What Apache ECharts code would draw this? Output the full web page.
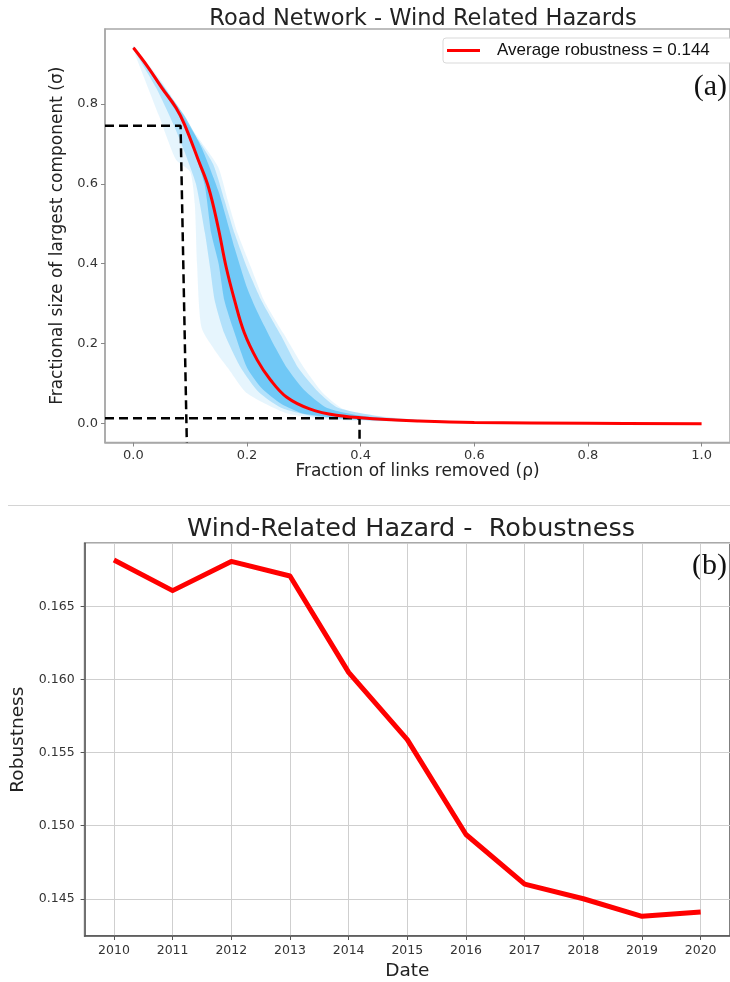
<!DOCTYPE html>
<html>
<head>
<meta charset="utf-8">
<script src="https://cdn.jsdelivr.net/npm/echarts@6/dist/echarts.min.js"></script>
<style>
  html, body { margin: 0; padding: 0; background: #fff; }
  #chart { width: 730px; height: 982px; }
</style>
</head>
<body>
<div id="chart"></div>
<script>
// (a) average curve of the largest component
const avgName = 'Average robustness = 0.144';
const avgX = [0, 0.025, 0.05, 0.075, 0.09, 0.114, 0.132, 0.149, 0.163, 0.178, 0.195, 0.218, 0.241, 0.27, 0.31, 0.357, 0.43, 0.5, 0.6, 0.8, 1.0];
const avgY = [0.94, 0.893, 0.84, 0.79, 0.748, 0.66, 0.592, 0.492, 0.393, 0.309, 0.228, 0.159, 0.11, 0.066, 0.037, 0.021, 0.012, 0.007, 0.003, 0.001, 0.0];

// spread of the individual runs (blue): faint outer edge, main body, dense core
const faintHighX = [0, 0.05, 0.1085, 0.149, 0.166, 0.1835, 0.2065, 0.2297, 0.264, 0.299, 0.334, 0.37, 0.43, 0.5, 0.6, 0.7];
const faintHighY = [0.945, 0.855, 0.726, 0.6425, 0.559, 0.476, 0.3925, 0.309, 0.226, 0.1425, 0.076, 0.036, 0.02, 0.01, 0.005, 0.002];
const faintLowX = [0, 0.045, 0.075, 0.1, 0.108, 0.112, 0.12, 0.15, 0.166, 0.2, 0.27, 0.35, 0.5, 0.7];
const faintLowY = [0.935, 0.77, 0.66, 0.63, 0.55, 0.40, 0.24, 0.17, 0.14, 0.076, 0.026, 0.01, 0.004, 0.001];

const mainHighX = [0, 0.05, 0.1, 0.14, 0.16, 0.178, 0.2, 0.225, 0.26, 0.29, 0.325, 0.36, 0.45, 0.6];
const mainHighY = [0.943, 0.85, 0.74, 0.65, 0.56, 0.476, 0.39, 0.309, 0.22, 0.14, 0.08, 0.04, 0.015, 0.004];
const mainLowX = [0, 0.04, 0.07, 0.09, 0.11, 0.126, 0.135, 0.143, 0.16, 0.189, 0.22, 0.26, 0.32, 0.4, 0.6];
const mainLowY = [0.937, 0.84, 0.75, 0.68, 0.60, 0.476, 0.39, 0.309, 0.226, 0.14, 0.08, 0.04, 0.018, 0.009, 0.002];

const coreHighX = [0, 0.05, 0.09, 0.12, 0.15, 0.178, 0.2, 0.218, 0.25, 0.27, 0.3, 0.34, 0.4, 0.5, 0.6];
const coreHighY = [0.942, 0.848, 0.77, 0.69, 0.58, 0.44, 0.34, 0.28, 0.19, 0.14, 0.085, 0.04, 0.02, 0.009, 0.004];
const coreLowX = [0, 0.05, 0.08, 0.1, 0.125, 0.137, 0.15, 0.16, 0.175, 0.2, 0.225, 0.26, 0.3, 0.4, 0.6];
const coreLowY = [0.938, 0.835, 0.77, 0.71, 0.6, 0.476, 0.40, 0.309, 0.24, 0.14, 0.09, 0.05, 0.025, 0.01, 0.002];

// dashed guide lines
const guideUpper = [[-0.05, 0.745], [0.083, 0.745], [0.094, -0.047]];
const guideLower = [[-0.05, 0.0135], [0.398, 0.0135], [0.398, -0.047]];

// (b) robustness per year
const years = [2010, 2011, 2012, 2013, 2014, 2015, 2016, 2017, 2018, 2019, 2020];
const robustness = [0.1682, 0.1661, 0.1681, 0.1671, 0.1605, 0.1559, 0.1494, 0.1460, 0.1450, 0.1438, 0.1441];

const FONT = '"DejaVu Sans", sans-serif';

const pairs = (xs, ys) => xs.map((x, i) => [x, ys[i]]);
const onStep = (v, step) => Math.abs(v / step - Math.round(v / step)) < 1e-6;

// filled region between an upper and a lower edge, placed with the axis scales
function bandSeries(highX, highY, lowX, lowY, color) {
    return {
        type: 'custom', xAxisIndex: 0, yAxisIndex: 0, silent: true, z: 1,
        data: [[highX[0], highY[0]]],
        renderItem: (params, api) => {
            const top = highX.map((x, i) => api.coord([x, highY[i]]));
            const bottom = lowX.map((x, i) => api.coord([x, lowY[i]])).reverse();
            return {
                type: 'polygon',
                shape: { points: top.concat(bottom), smooth: 0.2 },
                style: { fill: color }
            };
        }
    };
}

function guide(data) {
    return {
        type: 'line', xAxisIndex: 0, yAxisIndex: 0, data: data,
        symbol: 'none', silent: true, z: 3,
        lineStyle: { color: '#000', width: 2.5, type: [9, 5] }
    };
}

const myChart = echarts.init(document.getElementById('chart'), null, { renderer: 'canvas' });

const option = {
    animation: false,
    backgroundColor: '#fff',
    title: [
        {
            text: 'Road Network - Wind Related Hazards', left: 423, top: 8, padding: 0,
            textAlign: 'center',
            textStyle: { fontFamily: FONT, fontSize: 22.5, fontWeight: 'normal', color: '#222' }
        },
        {
            text: 'Wind-Related Hazard -  Robustness', left: 411, top: 516, padding: 0,
            textAlign: 'center',
            textStyle: { fontFamily: FONT, fontSize: 25.5, fontWeight: 'normal', color: '#222' }
        }
    ],
    legend: {
        data: [avgName], left: 443, top: 38, orient: 'horizontal',
        icon: 'rect', itemWidth: 33, itemHeight: 3,
        padding: [4, 22, 4, 4],
        backgroundColor: '#fff', borderColor: '#d9d9d9', borderWidth: 1, borderRadius: 3,
        textStyle: { fontFamily: '"Liberation Sans", sans-serif', fontSize: 17, color: '#111', padding: [0, 0, 0, 12] }
    },
    grid: [
        { left: 105, right: -11, top: 29, bottom: 539.5, show: true, borderColor: '#a8a8a8', borderWidth: 1.5 },
        { left: 84.6, right: -7, top: 543.3, bottom: 46, show: true, borderColor: '#555', borderWidth: 1.5 }
    ],
    xAxis: [
        {
            type: 'value', gridIndex: 0, min: -0.05, max: 1.05,
            splitNumber: 5, minInterval: 0.2, maxInterval: 0.2,
            name: 'Fraction of links removed (ρ)', nameLocation: 'middle', nameGap: 21,
            nameTextStyle: { fontFamily: FONT, fontSize: 17, color: '#222' },
            axisLine: { onZero: false, lineStyle: { color: '#a8a8a8', width: 1.5 } },
            axisTick: { length: 4, lineStyle: { color: '#888' } },
            axisLabel: {
                fontFamily: FONT, fontSize: 13, color: '#333', margin: 7,
                showMinLabel: false, showMaxLabel: false,
                formatter: v => onStep(v, 0.2) ? v.toFixed(1) : ''
            },
            splitLine: { show: false }
        },
        {
            type: 'value', gridIndex: 1, min: 2009.5, max: 2020.5,
            splitNumber: 11, minInterval: 1, maxInterval: 1,
            name: 'Date', nameLocation: 'middle', nameGap: 26,
            nameTextStyle: { fontFamily: FONT, fontSize: 18.5, color: '#222' },
            axisLine: { onZero: false, lineStyle: { color: '#555', width: 1.5 } },
            axisTick: { length: 4, lineStyle: { color: '#555' } },
            axisLabel: {
                fontFamily: FONT, fontSize: 12.5, color: '#333', margin: 8,
                showMinLabel: false, showMaxLabel: false,
                formatter: v => onStep(v, 1) ? String(Math.round(v)) : ''
            },
            splitLine: { show: true, lineStyle: { color: '#cfcfcf', width: 1 } }
        }
    ],
    yAxis: [
        {
            type: 'value', gridIndex: 0, min: -0.047, max: 0.987,
            splitNumber: 5, minInterval: 0.2, maxInterval: 0.2,
            name: 'Fractional size of largest component (σ)', nameLocation: 'middle', nameGap: 21,
            nameTextStyle: { fontFamily: FONT, fontSize: 17, color: '#222' },
            axisLine: { show: true, onZero: false, lineStyle: { color: '#a8a8a8', width: 1.5 } },
            axisTick: { show: true, length: 4, lineStyle: { color: '#888' } },
            axisLabel: {
                fontFamily: FONT, fontSize: 13, color: '#333', margin: 7,
                showMinLabel: false, showMaxLabel: false,
                formatter: v => onStep(v, 0.2) ? v.toFixed(1) : ''
            },
            splitLine: { show: false }
        },
        {
            type: 'value', gridIndex: 1, min: 0.14245, max: 0.16934,
            splitNumber: 5, minInterval: 0.005, maxInterval: 0.005,
            name: 'Robustness', nameLocation: 'middle', nameGap: 45,
            nameTextStyle: { fontFamily: FONT, fontSize: 18.5, color: '#222' },
            axisLine: { show: true, onZero: false, lineStyle: { color: '#555', width: 1.5 } },
            axisTick: { show: true, length: 4, lineStyle: { color: '#555' } },
            axisLabel: {
                fontFamily: FONT, fontSize: 12.5, color: '#333', margin: 10,
                showMinLabel: false, showMaxLabel: false,
                formatter: v => onStep(v, 0.005) ? v.toFixed(3) : ''
            },
            splitLine: { show: true, lineStyle: { color: '#cfcfcf', width: 1 } }
        }
    ],
    series: [
        bandSeries(faintHighX, faintHighY, faintLowX, faintLowY, 'rgba(140, 210, 248, 0.22)'),
        bandSeries(mainHighX, mainHighY, mainLowX, mainLowY, 'rgba(80, 190, 245, 0.35)'),
        bandSeries(coreHighX, coreHighY, coreLowX, coreLowY, 'rgba(30, 170, 240, 0.45)'),
        guide(guideUpper),
        guide(guideLower),
        {
            name: avgName, type: 'line', xAxisIndex: 0, yAxisIndex: 0,
            data: pairs(avgX, avgY), symbol: 'none', smooth: 0.4, z: 5,
            itemStyle: { color: '#ff0000' },
            lineStyle: { color: '#ff0000', width: 3 }
        },
        {
            name: 'Robustness', type: 'line', xAxisIndex: 1, yAxisIndex: 1,
            data: pairs(years, robustness), symbol: 'none', z: 5,
            itemStyle: { color: '#ff0000' },
            lineStyle: { color: '#ff0000', width: 5, join: 'round' }
        }
    ],
    graphic: [
        {
            type: 'line', shape: { x1: 8, y1: 505.5, x2: 730, y2: 505.5 },
            style: { stroke: '#d4d4d4', lineWidth: 1 }
        },
        {
            type: 'text', right: 3, top: 72,
            style: { text: '(a)', font: '30px "Liberation Serif", serif', fill: '#111' }
        },
        {
            type: 'text', right: 3, top: 551,
            style: { text: '(b)', font: '30px "Liberation Serif", serif', fill: '#111' }
        }
    ]
};

myChart.setOption(option);
window.onresize = function () {
    myChart.resize();
};
</script>
</body>
</html>
